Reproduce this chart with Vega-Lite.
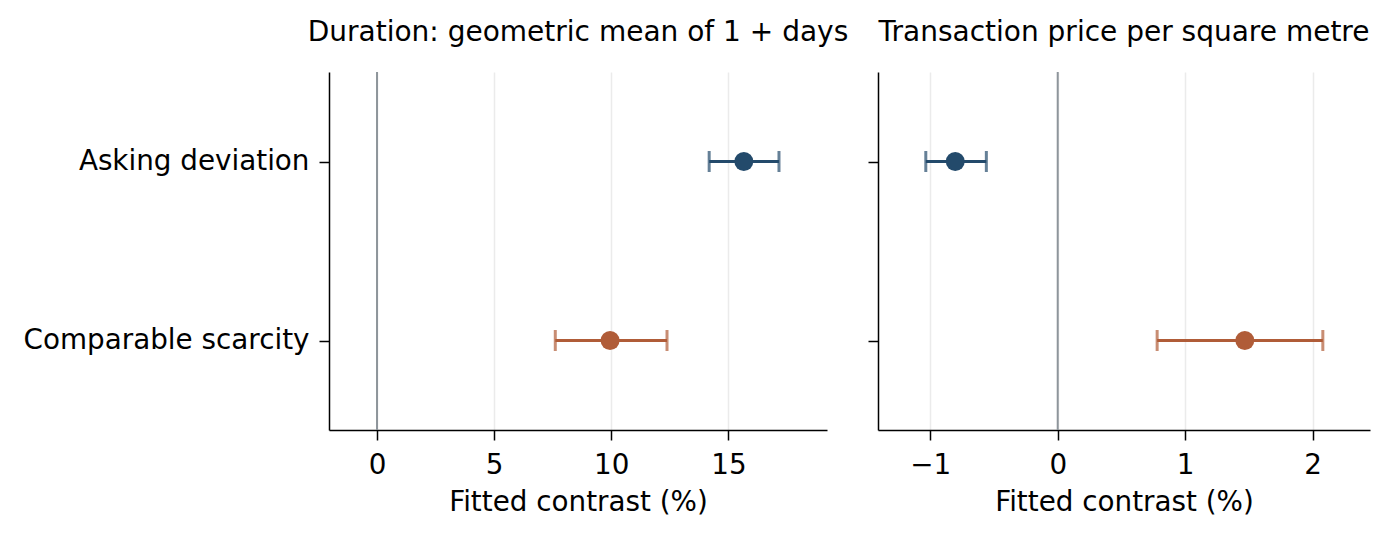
{
  "$schema": "https://vega.github.io/schema/vega-lite/v6.json",
  "description": "Fitted contrasts with confidence intervals",
  "background": "white",
  "padding": {"left": 23, "top": 19, "right": 10, "bottom": 10},
  "bounds": "flush",
  "spacing": 51,
  "datasets": {
    "est": [
      {"panel": "duration", "measure": "Asking deviation", "est": 15.66, "lo": 14.18, "hi": 17.16},
      {"panel": "duration", "measure": "Comparable scarcity", "est": 9.95, "lo": 7.61, "hi": 12.38},
      {"panel": "price", "measure": "Asking deviation", "est": -0.804, "lo": -1.035, "hi": -0.56},
      {"panel": "price", "measure": "Comparable scarcity", "est": 1.468, "lo": 0.78, "hi": 2.08}
    ],
    "zero": [{"ref": 0}]
  },
  "hconcat": [
    {
      "title": {"text": "Duration: geometric mean of 1 + days"},
      "width": 498,
      "height": 358,
      "layer": [
        {
          "data": {"name": "zero"},
          "mark": {"type": "rule", "color": "#8e959b", "strokeWidth": 2},
          "encoding": {
            "x": {"field": "ref", "type": "quantitative"}
          }
        },
        {
          "data": {"name": "est"},
          "transform": [{"filter": "datum.panel === 'duration'"}],
          "encoding": {
            "y": {
              "field": "measure",
              "type": "nominal",
              "scale": {"type": "point", "padding": 0.5, "domain": ["Asking deviation", "Comparable scarcity"]},
              "axis": {"title": null, "labelPadding": 10, "labelLimit": 0}
            },
            "color": {
              "field": "measure",
              "type": "nominal",
              "scale": {"domain": ["Asking deviation", "Comparable scarcity"], "range": ["#234a6b", "#b05c38"]},
              "legend": null
            }
          },
          "layer": [
            {
              "mark": {"type": "rule", "strokeWidth": 3},
              "encoding": {
                "x": {
                  "field": "lo",
                  "type": "quantitative",
                  "title": "Fitted contrast (%)",
                  "scale": {"domain": [-2.05, 19.21], "nice": false, "zero": false},
                  "axis": {"values": [0, 5, 10, 15]}
                },
                "x2": {"field": "hi"}
              }
            },
            {"mark": {"type": "tick", "size": 21, "thickness": 3}, "encoding": {"x": {"field": "lo", "type": "quantitative"}}},
            {"mark": {"type": "tick", "size": 21, "thickness": 3}, "encoding": {"x": {"field": "hi", "type": "quantitative"}}},
            {"mark": {"type": "circle", "size": 360, "opacity": 1}, "encoding": {"x": {"field": "est", "type": "quantitative"}}}
          ]
        }
      ]
    },
    {
      "title": {"text": "Transaction price per square metre"},
      "width": 492,
      "height": 358,
      "layer": [
        {
          "data": {"name": "zero"},
          "mark": {"type": "rule", "color": "#8e959b", "strokeWidth": 2},
          "encoding": {
            "x": {"field": "ref", "type": "quantitative"}
          }
        },
        {
          "data": {"name": "est"},
          "transform": [{"filter": "datum.panel === 'price'"}],
          "encoding": {
            "y": {
              "field": "measure",
              "type": "nominal",
              "scale": {"type": "point", "padding": 0.5, "domain": ["Asking deviation", "Comparable scarcity"]},
              "axis": {"title": null, "labels": false}
            },
            "color": {
              "field": "measure",
              "type": "nominal",
              "scale": {"domain": ["Asking deviation", "Comparable scarcity"], "range": ["#234a6b", "#b05c38"]},
              "legend": null
            }
          },
          "layer": [
            {
              "mark": {"type": "rule", "strokeWidth": 3},
              "encoding": {
                "x": {
                  "field": "lo",
                  "type": "quantitative",
                  "title": "Fitted contrast (%)",
                  "scale": {"domain": [-1.41, 2.45], "nice": false, "zero": false},
                  "axis": {"values": [-1, 0, 1, 2], "format": "d", "labelExpr": "replace(datum.label, '-', '\u2212')"}
                },
                "x2": {"field": "hi"}
              }
            },
            {"mark": {"type": "tick", "size": 21, "thickness": 3}, "encoding": {"x": {"field": "lo", "type": "quantitative"}}},
            {"mark": {"type": "tick", "size": 21, "thickness": 3}, "encoding": {"x": {"field": "hi", "type": "quantitative"}}},
            {"mark": {"type": "circle", "size": 360, "opacity": 1}, "encoding": {"x": {"field": "est", "type": "quantitative"}}}
          ]
        }
      ]
    }
  ],
  "config": {
    "font": "DejaVu Sans",
    "view": {"stroke": null},
    "title": {"fontSize": 28, "fontWeight": "normal", "color": "black", "offset": 24, "anchor": "middle"},
    "axis": {
      "domainColor": "black",
      "domainWidth": 1.5,
      "tickColor": "black",
      "tickWidth": 1.5,
      "tickSize": 10,
      "labelFontSize": 27.8,
      "labelColor": "black",
      "labelPadding": 11,
      "titleFontSize": 27.8,
      "titleFontWeight": "normal",
      "titleColor": "black",
      "titlePadding": 10
    },
    "axisX": {"grid": true, "gridColor": "#ebebeb", "gridWidth": 1.5},
    "axisY": {"grid": false}
  }
}
